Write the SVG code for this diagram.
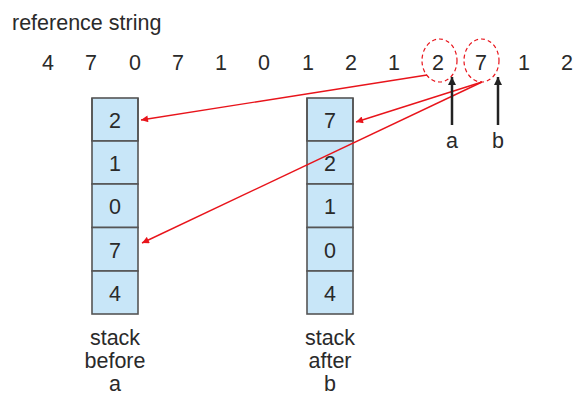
<svg xmlns="http://www.w3.org/2000/svg" width="574" height="396" viewBox="0 0 574 396">
<defs>
<style>
text{font-family:"Liberation Sans",Arial,sans-serif;fill:#2a2a2a;}
.d{font-size:21.5px;text-anchor:middle;}
.l{font-size:21.5px;text-anchor:middle;}
.cell{fill:#C8E6F8;stroke:#555;stroke-width:1.6;}
.side{stroke:#555;stroke-width:1.6;fill:none;}
.red{stroke:#E8141B;stroke-width:1.4;fill:none;}
.circ{stroke:#E8141B;stroke-width:1.2;fill:none;stroke-dasharray:4 3;}
.blk{stroke:#222;stroke-width:2.5;fill:none;}
</style>
<marker id="ra" viewBox="0 0 10 10" refX="10" refY="5" markerWidth="9" markerHeight="7" markerUnits="userSpaceOnUse" orient="auto"><path d="M0,0 L10,5 L0,10 Z" fill="#E8141B"/></marker>
<marker id="ka" viewBox="0 0 10 10" refX="10" refY="5" markerWidth="10" markerHeight="8" markerUnits="userSpaceOnUse" orient="auto"><path d="M0,0 L10,5 L0,10 Z" fill="#222"/></marker>
</defs>
<rect width="574" height="396" fill="#fff"/>
<text x="12" y="30" style="font-size:21.5px">reference string</text>
<g id="refstring">
<text class="d" x="48" y="70">4</text>
<text class="d" x="91" y="70">7</text>
<text class="d" x="135" y="70">0</text>
<text class="d" x="178" y="70">7</text>
<text class="d" x="221" y="70">1</text>
<text class="d" x="264" y="70">0</text>
<text class="d" x="308" y="70">1</text>
<text class="d" x="351" y="70">2</text>
<text class="d" x="394" y="70">1</text>
<text class="d" x="438" y="70">2</text>
<text class="d" x="481" y="70">7</text>
<text class="d" x="524" y="70">1</text>
<text class="d" x="567" y="70">2</text>
</g>
<g id="circle-a"><ellipse class="circ" cx="439.5" cy="60.5" rx="17.5" ry="21.5"/></g>
<g id="circle-b"><ellipse class="circ" cx="481.5" cy="60.5" rx="17.5" ry="21.5"/></g>
<g id="stack-before">
<rect class="cell" x="92" y="98" width="46" height="43" stroke="none"/>
<rect class="cell" x="92" y="141" width="46" height="43"/>
<rect class="cell" x="92" y="184" width="46" height="43.5"/>
<rect class="cell" x="92" y="227.5" width="46" height="43.5"/>
<rect class="cell" x="92" y="271" width="46" height="43"/>
<path class="side" d="M92,98 V141 M138,98 V141"/>
<text class="d" x="115" y="128">2</text>
<text class="d" x="115" y="171">1</text>
<text class="d" x="115" y="214">0</text>
<text class="d" x="115" y="258">7</text>
<text class="d" x="115" y="301">4</text>
<text class="l" x="115" y="345">stack</text>
<text class="l" x="115" y="368">before</text>
<text class="l" x="115" y="391">a</text>
</g>
<g id="stack-after">
<rect class="cell" x="307" y="98" width="46" height="43" stroke="none"/>
<rect class="cell" x="307" y="141" width="46" height="43"/>
<rect class="cell" x="307" y="184" width="46" height="43.5"/>
<rect class="cell" x="307" y="227.5" width="46" height="43.5"/>
<rect class="cell" x="307" y="271" width="46" height="43"/>
<path class="side" d="M307,98 V141 M353,98 V141"/>
<text class="d" x="330" y="128">7</text>
<text class="d" x="330" y="171">2</text>
<text class="d" x="330" y="214">1</text>
<text class="d" x="330" y="258">0</text>
<text class="d" x="330" y="301">4</text>
<text class="l" x="330" y="345">stack</text>
<text class="l" x="330" y="368">after</text>
<text class="l" x="330" y="391">b</text>
</g>
<g id="label-a"><text class="l" x="452" y="148">a</text></g>
<g id="label-b"><text class="l" x="498" y="148">b</text></g>
<g id="connectors">
<line class="red" x1="427" y1="75" x2="141" y2="120" marker-end="url(#ra)"/>
<line class="red" x1="482" y1="82" x2="356" y2="122" marker-end="url(#ra)"/>
<line class="red" x1="482" y1="82" x2="142" y2="243" marker-end="url(#ra)"/>
<line class="blk" x1="452" y1="125" x2="452" y2="77" marker-end="url(#ka)"/>
<line class="blk" x1="498" y1="125" x2="498" y2="77" marker-end="url(#ka)"/>
</g>
</svg>
